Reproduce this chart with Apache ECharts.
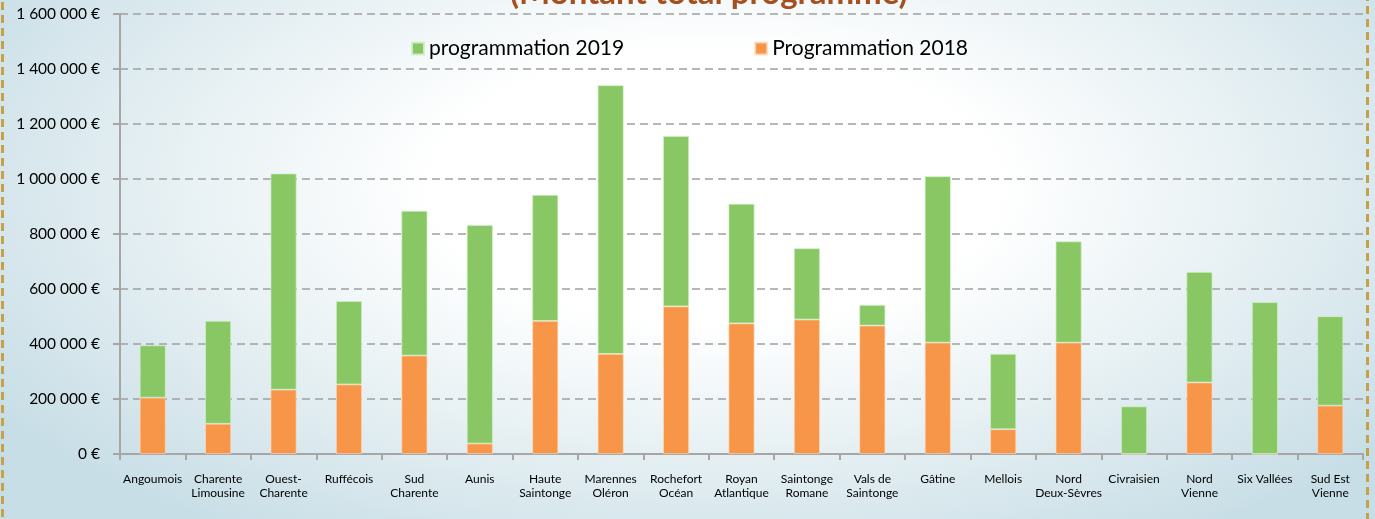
<!DOCTYPE html>
<html>
<head>
<meta charset="utf-8">
<script src="https://cdn.jsdelivr.net/npm/echarts@6/dist/echarts.min.js"></script>
<style>
html,body{margin:0;padding:0;}
body{width:1375px;height:519px;overflow:hidden;
background: radial-gradient(ellipse 62% 80% at 52% 36%, #ffffff 0%, #ffffff 33%, #e8f1f4 62%, #c8dee6 100%);}
#chart{width:1375px;height:519px;}
</style>
</head>
<body>
<div id="chart"></div>
<script>
const categories = ["Angoumois","Charente\nLimousine","Ouest-\nCharente","Ruffécois","Sud\nCharente","Aunis","Haute\nSaintonge","Marennes\nOléron","Rochefort\nOcéan","Royan\nAtlantique","Saintonge\nRomane","Vals de\nSaintonge","Gâtine","Mellois","Nord\nDeux-Sèvres","Civraisien","Nord\nVienne","Six Vallées","Sud Est\nVienne"];
const prog2018 = [205000,110000,234000,253000,358000,38000,484000,364000,537000,475000,489000,467000,405000,90000,405000,0,260000,0,176000];
const prog2019 = [190000,374000,786000,303000,526000,794000,458000,977000,619000,435000,259000,75000,605000,274000,368000,173000,402000,552000,325000];
const yTicks = [0,200000,400000,600000,800000,1000000,1200000,1400000,1600000];
const titleText = "(Montant total programmé)";
const seriesNames = ["programmation 2019","Programmation 2018"];

const chart = echarts.init(document.getElementById('chart'), null, {renderer:'canvas'});
const FONT = 'Lato';
function fmt(v){ return String(v).replace(/\B(?=(\d{3})+(?!\d))/g,' ') + ' €'; }

chart.setOption({
  backgroundColor: 'transparent',
  animation: false,
  graphic: [
    {type:'text', z: 10, left: 510, top: -23,
     style:{text: titleText, fill:'#A5501F', font:'bold 33px Lato'}},
    {type:'rect', z: 0, silent: true,
     shape:{x:2.5, y:-20, width:1365, height:600},
     style:{fill:'none', stroke:'#C4A24A', lineWidth:3, lineDash:[8,5]}}
  ],
  legend: {
    data: seriesNames,
    left: 406, top: 33,
    itemWidth: 12, itemHeight: 12, itemGap: 130,
    icon: 'rect',
    textStyle: {fontFamily: FONT, fontSize: 21, color:'#000'}
  },
  grid: {left:120, right:12, top:14, bottom:65, containLabel:false},
  xAxis: {
    type:'category',
    data: categories,
    axisLine:{lineStyle:{color:'#A6A6A6', width:2}},
    axisTick:{show:true, length:6, alignWithLabel:false, lineStyle:{color:'#A6A6A6', width:2}},
    axisLabel:{fontFamily: FONT, fontSize:12, color:'#000', margin:18, lineHeight:14, interval:0}
  },
  yAxis: {
    type:'value', min:0, max:1600000, interval:200000,
    axisLine:{show:true, lineStyle:{color:'#A6A6A6', width:2}},
    axisTick:{show:true, length:7, lineStyle:{color:'#A6A6A6', width:2}},
    axisLabel:{fontFamily: FONT, fontSize:15.5, color:'#000', margin:20, formatter: fmt},
    splitLine:{show:true, lineStyle:{color:'#A0A0A0', width:1.6, type:[8,5]}}
  },
  series: [
    {name: seriesNames[1], type:'bar', stack:'tot', data: prog2018, barWidth:26,
     itemStyle:{color:'#F79649', borderColor:'rgba(255,220,190,0.8)', borderWidth:0.8}},
    {name: seriesNames[0], type:'bar', stack:'tot', data: prog2019, barWidth:26,
     itemStyle:{color:'#88C764', borderColor:'rgba(210,240,200,0.9)', borderWidth:0.8}}
  ]
});
</script>
</body>
</html>
